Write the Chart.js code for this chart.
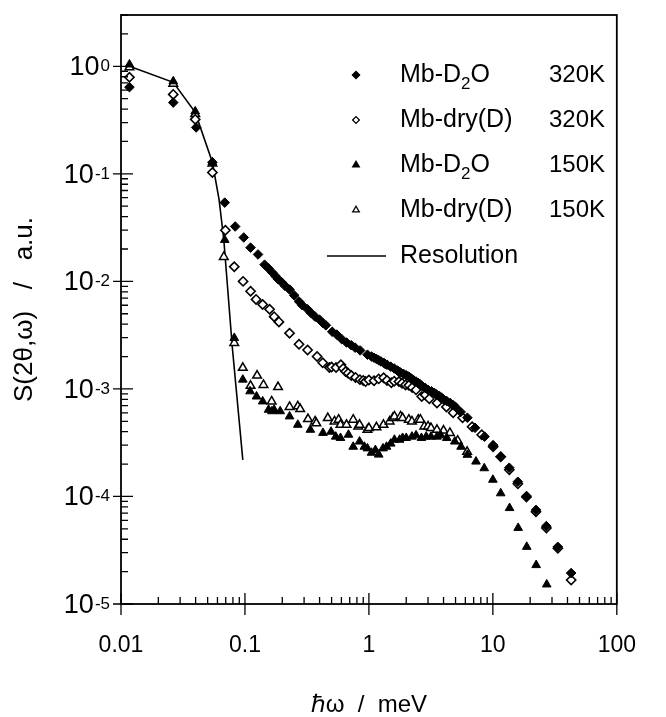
<!DOCTYPE html>
<html>
<head>
<meta charset="utf-8">
<script src="https://cdn.jsdelivr.net/npm/chart.js@4/dist/chart.umd.min.js"></script>
<style>
  html, body { margin: 0; padding: 0; background: #fff; }
</style>
</head>
<body>
<canvas id="chart" width="666" height="717"></canvas>
<script>
// values: [energy (meV), S(2θ,ω)]
const d2o320 = [
  [0.0117,0.64],[0.0264,0.46],[0.0404,0.27],[0.0546,0.128],[0.0687,0.054],[0.0834,0.0324],
  [0.0978,0.0256],[0.111,0.0206],[0.1275,0.0178],[0.144,0.0143],[0.155,0.0132],[0.166,0.0121],
  [0.175,0.0113],[0.185,0.0105],[0.198,0.0098],[0.21,0.0091],[0.229,0.0084],[0.25,0.0074],
  [0.273,0.0065],[0.29,0.006],[0.32,0.0055],[0.34,0.0051],[0.368,0.0047],[0.4,0.0044],
  [0.425,0.0041],[0.45,0.0039],[0.506,0.0034],[0.55,0.0032],[0.604,0.0029],[0.66,0.0027],
  [0.72,0.00255],[0.774,0.00242],[0.85,0.00228],[0.974,0.00208],[1.05,0.002],[1.1,0.00195],
  [1.15,0.0019],[1.2,0.00185],[1.25,0.0018],[1.315,0.00175],[1.35,0.00171],[1.4,0.00168],
  [1.5,0.00161],[1.6,0.00155],[1.7,0.00148],[1.746,0.00145],[1.8,0.00142],[1.9,0.00138],
  [2.0,0.00134],[2.1,0.0013],[2.2,0.00125],[2.3,0.0012],[2.4,0.00117],[2.49,0.00114],
  [2.6,0.0011],[2.7,0.00106],[2.85,0.00102],[3.0,0.00098],[3.2,0.00095],[3.36,0.00092],
  [3.5,0.00089],[3.7,0.00086],[3.85,0.00083],[4.0,0.0008],[4.25,0.00077],[4.53,0.00074],
  [4.75,0.00071],[5.0,0.00068],[5.5,0.00061],[6.23,0.00054],[7.18,0.000435],[8.57,0.00036],
  [10.05,0.0003],[11.56,0.000234],[13.56,0.000185],[15.9,0.000137],[18.7,0.000101],
  [22.3,7.5e-5],[27.0,5.3e-5],[33.4,3.4e-5],[42.8,1.94e-5]
];
const dry320 = [
  [0.0117,0.79],[0.0264,0.548],[0.0397,0.321],[0.0546,0.103],[0.0695,0.0299],[0.082,0.0137],
  [0.0966,0.01],[0.111,0.0081],[0.123,0.0068],[0.139,0.0061],[0.158,0.0055],[0.172,0.0047],
  [0.188,0.0042],[0.229,0.0033],[0.273,0.0026],[0.32,0.0023],[0.382,0.002],[0.424,0.00175],
  [0.48,0.00158],[0.5,0.0016],[0.543,0.00158],[0.594,0.00168],[0.62,0.00155],[0.649,0.00145],
  [0.68,0.0014],[0.721,0.00133],[0.78,0.00128],[0.846,0.00122],[0.9,0.0012],[0.94,0.00117],
  [1.0,0.00121],[1.1,0.00119],[1.2,0.00124],[1.315,0.00127],[1.4,0.0012],[1.516,0.00114],
  [1.6,0.00118],[1.746,0.00117],[1.85,0.00113],[1.976,0.00109],[2.1,0.00108],[2.236,0.00103],
  [2.4,0.00098],[2.668,0.00085],[2.85,0.00088],[3.07,0.00081],[3.54,0.00074],[4.22,0.00068],
  [4.78,0.0006],[5.7,0.00054],[6.8,0.000445],[8.13,0.000375],[10.05,0.00029],[11.57,0.000234],
  [13.57,0.000177],[15.91,0.000131],[18.66,9.9e-5],[22.27,7.2e-5],[27.04,5.1e-5],
  [33.44,3.3e-5],[42.83,1.67e-5]
];
const d2o150 = [
  [0.0117,1.04],[0.0264,0.725],[0.0397,0.381],[0.0546,0.128],[0.0687,0.0243],[0.082,0.00298],
  [0.0961,0.00122],[0.11,0.00095],[0.124,0.00085],[0.139,0.000765],[0.155,0.00064],
  [0.165,0.00062],[0.172,0.00064],[0.1925,0.00062],[0.229,0.000555],[0.267,0.000464],
  [0.337,0.000417],[0.426,0.00039],[0.495,0.0004],[0.54,0.00036],[0.59,0.00035],
  [0.684,0.000375],[0.747,0.00029],[0.841,0.000324],[0.919,0.00029],[0.973,0.00028],
  [1.05,0.000255],[1.128,0.00027],[1.2,0.000245],[1.3,0.00028],[1.388,0.00029],[1.5,0.00031],
  [1.607,0.000337],[1.77,0.000337],[1.87,0.00035],[2.0,0.00035],[2.224,0.00036],[2.4,0.00037],
  [2.654,0.00035],[2.9,0.00036],[3.168,0.00036],[3.54,0.00036],[3.8,0.00037],[4.25,0.00035],
  [4.93,0.000324],[5.54,0.00029],[6.23,0.000244],[7.31,0.000211],[8.52,0.000183],
  [10.0,0.000143],[11.57,0.000107],[13.64,7.8e-5],[16.0,5.1e-5],[18.76,3.4e-5],
  [22.35,2.3e-5],[27.2,1.52e-5]
];
const dry150 = [
  [0.0117,0.98],[0.0264,0.69],[0.0397,0.36],[0.0546,0.125],[0.0675,0.0169],[0.082,0.00268],
  [0.0961,0.00157],[0.111,0.00107],[0.1253,0.00133],[0.141,0.00109],[0.1642,0.000765],
  [0.1849,0.00104],[0.229,0.00068],[0.267,0.00069],[0.279,0.00065],[0.3225,0.000524],
  [0.368,0.000498],[0.3765,0.000479],[0.466,0.000536],[0.528,0.000498],[0.57,0.000517],
  [0.59,0.000464],[0.66,0.000464],[0.747,0.000517],[0.82,0.000448],[0.841,0.000464],
  [0.973,0.000417],[1.0,0.000432],[1.15,0.00044],[1.31,0.000464],[1.47,0.000498],
  [1.56,0.000536],[1.607,0.000555],[1.8,0.000555],[1.87,0.000536],[2.1,0.000517],
  [2.224,0.000498],[2.5,0.000517],[2.6,0.000517],[2.8,0.000448],[3.0,0.000448],
  [3.17,0.000432],[3.54,0.000417],[4.0,0.00041],[4.5,0.00039],[5.2,0.00033],[6.2,0.00026]
];
const resolution = [
  [0.0117,1.0],[0.0264,0.71],[0.0397,0.373],[0.0546,0.128],[0.0618,0.058],[0.0675,0.0245],
  [0.079,0.00247],[0.0961,0.000219]
];
const xTicks = [0.01, 0.1, 1, 10, 100];
const yTicks = [1, 0.1, 0.01, 0.001, 0.0001, 0.00001];
const legendRows = [
  { name: 'Mb-D', sub: '2', tail: 'O', temp: '320K' },
  { name: 'Mb-dry(D)', sub: '', tail: '', temp: '320K' },
  { name: 'Mb-D', sub: '2', tail: 'O', temp: '150K' },
  { name: 'Mb-dry(D)', sub: '', tail: '', temp: '150K' }
];

const FONT = '"Liberation Sans", Arial, Helvetica, sans-serif';
const pts = arr => arr.map(p => ({ x: p[0], y: p[1] }));

// marker styles, shared by plot and legend
const styles = [
  { pointStyle: 'rectRot', pointRadius: 4.8, backgroundColor: '#000', borderColor: '#000', borderWidth: 1 },
  { pointStyle: 'rectRot', pointRadius: 4.6, backgroundColor: '#fff', borderColor: '#000', borderWidth: 1.6 },
  { pointStyle: 'triangle', pointRadius: 5, backgroundColor: '#000', borderColor: '#000', borderWidth: 1 },
  { pointStyle: 'triangle', pointRadius: 5, backgroundColor: '#fff', borderColor: '#000', borderWidth: 1.5 }
];

const decor = {
  id: 'decor',
  afterDraw(chart) {
    const { ctx, chartArea: a, scales: { x, y } } = chart;
    ctx.save();
    ctx.strokeStyle = '#000';
    ctx.fillStyle = '#000';

    // frame
    ctx.lineWidth = 1.8;
    ctx.strokeRect(a.left, a.top, a.right - a.left, a.bottom - a.top);

    // tick marks
    ctx.lineWidth = 1.3;
    ctx.beginPath();
    for (let e = -2; e <= 2; e++) {
      for (let m = 1; m <= 9; m++) {
        const v = m * Math.pow(10, e);
        if (v > 100.001) break;
        const px = x.getPixelForValue(v);
        const major = m === 1;
        ctx.moveTo(px, a.bottom + (major ? 11 : 0));
        ctx.lineTo(px, a.bottom - (major ? 11 : 7));
      }
    }
    for (let e = -5; e <= 0; e++) {
      for (let m = 1; m <= 9; m++) {
        const v = m * Math.pow(10, e);
        if (v > 3.001) break;
        const py = y.getPixelForValue(v);
        const major = m === 1;
        ctx.moveTo(a.left - (major ? 8 : 0), py);
        ctx.lineTo(a.left + (major ? 12 : 7), py);
      }
    }
    ctx.stroke();

    // y labels 10^n
    yTicks.forEach(v => {
      const py = y.getPixelForValue(v);
      const e = Math.round(Math.log10(v));
      const sup = e === 0 ? '0' : '-' + (-e);
      ctx.textAlign = 'right';
      ctx.textBaseline = 'alphabetic';
      ctx.font = '17px ' + FONT;
      const sw = ctx.measureText(sup).width;
      ctx.fillText(sup, 110, py + 5);
      ctx.font = '27px ' + FONT;
      ctx.fillText('10', 110 - sw - 1, py + 9);
    });

    // legend
    const mx = 356, tx = 400, tempX = 549;
    const rowY = [75, 120, 165, 210];
    legendRows.forEach((r, i) => {
      const s = styles[i];
      ctx.fillStyle = s.backgroundColor;
      ctx.strokeStyle = s.borderColor;
      Chart.helpers.drawPoint(ctx, {
        pointStyle: s.pointStyle, rotation: 0,
        radius: s.pointRadius - 1.2, borderWidth: s.borderWidth
      }, mx, rowY[i]);
      ctx.fillStyle = '#000';
      ctx.textAlign = 'left';
      ctx.textBaseline = 'middle';
      ctx.font = '25px ' + FONT;
      let cx = tx;
      ctx.fillText(r.name, cx, rowY[i]);
      cx += ctx.measureText(r.name).width;
      if (r.sub) {
        ctx.font = '17px ' + FONT;
        ctx.fillText(r.sub, cx, rowY[i] + 9);
        cx += ctx.measureText(r.sub).width;
        ctx.font = '25px ' + FONT;
        ctx.fillText(r.tail, cx, rowY[i]);
      }
      ctx.font = '24px ' + FONT;
      ctx.fillText(r.temp, tempX, rowY[i]);
    });
    ctx.strokeStyle = '#000';
    ctx.lineWidth = 1.5;
    ctx.beginPath();
    ctx.moveTo(327, 256);
    ctx.lineTo(386, 256);
    ctx.stroke();
    ctx.font = '25px ' + FONT;
    ctx.textAlign = 'left';
    ctx.textBaseline = 'middle';
    ctx.fillText('Resolution', tx, 256);

    ctx.restore();
  }
};

new Chart(document.getElementById('chart'), {
  type: 'scatter',
  data: {
    datasets: [
      Object.assign({ label: 'Mb-D2O 320K', data: pts(d2o320) }, styles[0]),
      Object.assign({ label: 'Mb-dry(D) 320K', data: pts(dry320) }, styles[1]),
      Object.assign({ label: 'Mb-D2O 150K', data: pts(d2o150) }, styles[2]),
      Object.assign({ label: 'Mb-dry(D) 150K', data: pts(dry150) }, styles[3]),
      {
        label: 'Resolution', data: pts(resolution), showLine: true,
        borderColor: '#000', borderWidth: 1.6, pointRadius: 0, tension: 0
      }
    ]
  },
  options: {
    responsive: false,
    animation: false,
    devicePixelRatio: 1,
    layout: { padding: { top: 15, right: 24, left: 0, bottom: 0 } },
    plugins: { legend: { display: false }, tooltip: { enabled: false } },
    scales: {
      x: {
        type: 'logarithmic', position: 'bottom', min: 0.01, max: 100,
        grid: { display: false, drawTicks: false }, border: { display: false },
        afterBuildTicks: s => { s.ticks = xTicks.map(v => ({ value: v })); },
        afterFit: s => { s.height = 113; },
        ticks: {
          autoSkip: false, maxRotation: 0, padding: 30, color: '#000',
          font: { family: FONT, size: 23, lineHeight: 1 },
          callback: v => String(v)
        },
        title: {
          display: true, text: 'ℏω  /  meV', color: '#000',
          font: { family: FONT, size: 24, lineHeight: 1 }, padding: { top: 0, bottom: 0 }
        }
      },
      y: {
        type: 'logarithmic', position: 'left', min: 1e-5, max: 3,
        grid: { display: false, drawTicks: false }, border: { display: false },
        afterBuildTicks: s => { s.ticks = yTicks.map(v => ({ value: v })); },
        afterFit: s => { s.width = 121; },
        ticks: { display: false },
        title: {
          display: true, text: 'S(2θ,ω)   /   a.u.', color: '#000',
          font: { family: FONT, size: 26, lineHeight: 1 }, padding: { top: 12, bottom: 0 }
        }
      }
    }
  },
  plugins: [decor]
});
</script>
</body>
</html>
